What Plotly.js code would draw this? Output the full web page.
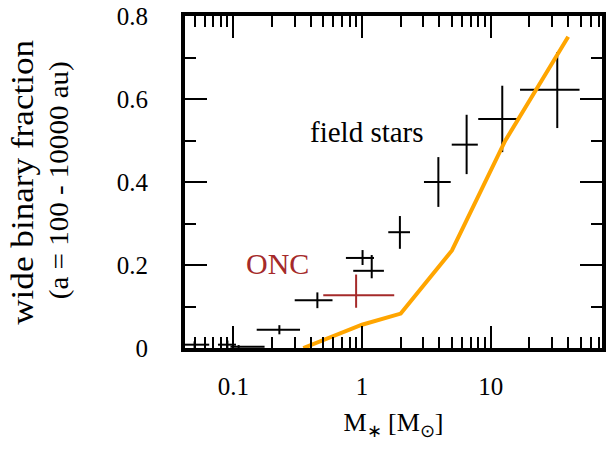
<!DOCTYPE html>
<html>
<head>
<meta charset="utf-8">
<script src="https://cdn.plot.ly/plotly-3.0.1.min.js"></script>
<style>
  html, body { margin: 0; padding: 0; background: #fff; }
  #chart { width: 606px; height: 453px; }
</style>
</head>
<body>
<div id="chart"></div>
<script>
// Field-star wide binary fractions (mass bins with ranges)
const fieldMass     = [0.05, 0.09, 0.11, 0.228, 0.45, 1.01, 1.19, 1.97, 3.92, 6.5, 12.3, 32.9];
const fieldMassLo   = [0.04, 0.076, 0.095, 0.152, 0.30, 0.75, 0.855, 1.60, 3.03, 4.98, 8.0, 16.9];
const fieldMassHi   = [0.065, 0.105, 0.175, 0.33, 0.59, 1.24, 1.48, 2.36, 4.89, 7.94, 16.9, 49.0];
const fieldFrac     = [0.008, 0.008, 0.003, 0.044, 0.115, 0.217, 0.186, 0.279, 0.40, 0.49, 0.552, 0.622];
const fieldFracUp   = [0.008, 0.010, 0.004, 0.011, 0.019, 0.019, 0.038, 0.039, 0.06, 0.072, 0.080, 0.091];
const fieldFracDown = [0.008, 0.010, 0.004, 0.011, 0.019, 0.017, 0.018, 0.040, 0.06, 0.071, 0.080, 0.092];

// ONC measurement
const oncMass     = [0.9];
const oncMassLo   = [0.5];
const oncMassHi   = [1.78];
const oncFrac     = [0.127];
const oncFracUp   = [0.05];
const oncFracDown = [0.03];

// Model curve
const modelMass = [0.35, 1.0, 2.0, 5.0, 13, 40];
const modelFrac = [0, 0.056, 0.083, 0.235, 0.50, 0.75];

// Axis ticks
const xTickVals  = [0.1, 1, 10];
const xTickText  = ['0.1', '1', '10'];
const xMinorVals = [0.05, 0.06, 0.07, 0.08, 0.09, 0.2, 0.3, 0.4, 0.5, 0.6, 0.7, 0.8, 0.9,
                    2, 3, 4, 5, 6, 7, 8, 9, 20, 30, 40, 50, 60, 70];
const yTickVals  = [0, 0.2, 0.4, 0.6, 0.8];
const yTickText  = ['0', '0.2', '0.4', '0.6', '0.8'];

const SERIF = 'Liberation Serif, Times New Roman, serif';

function diff(a, b) { return a.map((v, i) => v - b[i]); }

const fieldTrace = {
  x: fieldMass, y: fieldFrac, type: 'scatter', mode: 'markers',
  marker: {size: 0, color: 'rgba(0,0,0,0)'},
  error_x: {type: 'data', symmetric: false, array: diff(fieldMassHi, fieldMass),
            arrayminus: diff(fieldMass, fieldMassLo), width: 0, thickness: 2, color: '#000'},
  error_y: {type: 'data', symmetric: false, array: fieldFracUp, arrayminus: fieldFracDown,
            width: 0, thickness: 2, color: '#000'},
  hoverinfo: 'skip', showlegend: false
};

const oncTrace = {
  x: oncMass, y: oncFrac, type: 'scatter', mode: 'markers',
  marker: {size: 0, color: 'rgba(0,0,0,0)'},
  error_x: {type: 'data', symmetric: false, array: diff(oncMassHi, oncMass),
            arrayminus: diff(oncMass, oncMassLo), width: 0, thickness: 2, color: '#a52a2a'},
  error_y: {type: 'data', symmetric: false, array: oncFracUp, arrayminus: oncFracDown,
            width: 0, thickness: 2, color: '#a52a2a'},
  hoverinfo: 'skip', showlegend: false
};

const modelTrace = {
  x: modelMass, y: modelFrac, type: 'scatter', mode: 'lines',
  line: {color: '#ffa500', width: 4},
  hoverinfo: 'skip', showlegend: false
};

const axisCommon = {
  showgrid: false, zeroline: false,
  showline: true, linewidth: 4, linecolor: '#000', mirror: 'allticks',
  ticks: 'inside', ticklen: 22, tickwidth: 2, tickcolor: '#000',
  tickfont: {family: SERIF, size: 25, color: '#000'}
};

const layout = {
  width: 606, height: 453,
  margin: {l: 185, r: 4, t: 16, b: 105},
  paper_bgcolor: '#fff', plot_bgcolor: '#fff',
  showlegend: false,
  xaxis: Object.assign({}, axisCommon, {
    type: 'log',
    range: [-1.3753, 1.8648],
    tickmode: 'array', tickvals: xTickVals, ticktext: xTickText,
    ticklabelstandoff: 13,
    minor: {tickmode: 'array', tickvals: xMinorVals, ticks: 'inside', ticklen: 11,
            tickwidth: 2, tickcolor: '#000', showgrid: false},
    title: {text: 'M<sub>∗</sub> [M<sub>⊙</sub>]', standoff: 15,
            font: {family: SERIF, size: 26, color: '#000'}}
  }),
  yaxis: Object.assign({}, axisCommon, {
    range: [0, 0.8],
    tickmode: 'array', tickvals: yTickVals, ticktext: yTickText,
    ticklabelstandoff: 28,
    minor: {dtick: 0.1, ticks: 'inside', ticklen: 11, tickwidth: 2, tickcolor: '#000', showgrid: false}
  }),
  annotations: [
    {text: 'wide binary fraction', xref: 'paper', yref: 'paper', x: 0, y: 0.4985,
     xshift: -162.5, xanchor: 'center', yanchor: 'middle', textangle: -90, showarrow: false,
     font: {family: SERIF, size: 31, color: '#000'}},
    {text: '(a = 100 - 10000 au)', xref: 'paper', yref: 'paper', x: 0, y: 0.503,
     xshift: -126, xanchor: 'center', yanchor: 'middle', textangle: -90, showarrow: false,
     font: {family: SERIF, size: 27, color: '#000'}},
    {text: 'field stars', xref: 'paper', yref: 'paper', x: 0.4365, y: 0.651,
     xanchor: 'center', yanchor: 'middle', showarrow: false,
     font: {family: SERIF, size: 29, color: '#000'}},
    {text: 'ONC', xref: 'paper', yref: 'paper', x: 0.2218, y: 0.256,
     xanchor: 'center', yanchor: 'middle', showarrow: false,
     font: {family: SERIF, size: 30, color: '#a52a2a'}}
  ]
};

// The rotated y label is set in a stretched face: widen its two lines along the baseline.
const yLabelLengths = {0: 285, 1: 238};

Plotly.newPlot('chart', [fieldTrace, oncTrace, modelTrace], layout, {staticPlot: true, displayModeBar: false})
  .then(function (gd) {
    Object.keys(yLabelLengths).forEach(function (idx) {
      const t = gd.querySelector('g.annotation[data-index="' + idx + '"] text.annotation-text');
      if (t) {
        t.setAttribute('textLength', yLabelLengths[idx]);
        t.setAttribute('lengthAdjust', 'spacingAndGlyphs');
      }
    });
  });
</script>
</body>
</html>
